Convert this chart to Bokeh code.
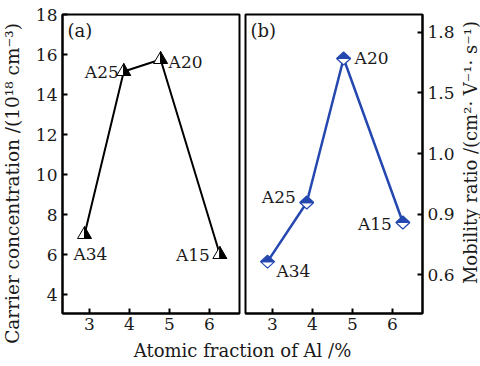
import math
from bokeh.plotting import figure
from bokeh.layouts import row, column
from bokeh.models import ColumnDataSource, Label, FixedTicker, Range1d
from bokeh.embed import file_html
from bokeh.resources import INLINE
from bokeh.core.properties import value

# ---------------- data ----------------
samples = ["A34", "A25", "A20", "A15"]
al_fraction = [2.88, 3.86, 4.78, 6.26]
carrier_conc = [7.0, 15.15, 15.75, 6.0]
mobility_ratio = [0.664, 0.957, 1.671, 0.858]

x_ticks = [3, 4, 5, 6]
carrier_ticks = [4, 6, 8, 10, 12, 14, 16, 18]
mob_tick_pos = [0.6, 0.9, 1.2, 1.5, 1.8]
mob_tick_labels = ["0.6", "0.9", "1.0", "1.5", "1.8"]

x_title = "Atomic fraction of Al /%"
left_title = "Carrier concentration /(10\u00b9\u2078 cm\u207b\u00b3)"
right_title = "Mobility ratio /(cm\u00b2\u00b7 V\u207b\u00b9\u00b7 s\u207b\u00b9)"

# ---------------- style ----------------
FONT = "DejaVu Serif"
TXT = "#1a1a1a"
BLUE = "#2548b0"
FW, FH = 177, 299
XR = (2.33, 6.75)
YR1 = (3.05, 18.0)
YR2 = (0.407, 1.889)
ROW_H = 340
TOTAL_H = 366
LEFT_W = 24


def base_fig(yr, y_loc, left, right):
    p = figure(frame_width=FW, frame_height=FH, x_range=Range1d(*XR), y_range=Range1d(*yr),
               y_axis_location=y_loc, output_backend="svg", toolbar_location=None,
               min_border_left=left, min_border_right=right, min_border_top=14,
               min_border_bottom=27)
    p.grid.visible = False
    p.outline_line_color = "black"
    p.outline_line_width = 2
    p.background_fill_color = "white"
    p.border_fill_color = "white"
    for ax in p.axis:
        ax.axis_line_width = 2
        ax.major_tick_in = 5
        ax.major_tick_out = 0
        ax.major_tick_line_width = 2
        ax.minor_tick_line_color = None
        ax.major_label_text_font = FONT
        ax.major_label_text_font_size = "17px"
        ax.major_label_text_color = TXT
    p.xaxis.ticker = FixedTicker(ticks=x_ticks)
    p.xaxis.major_label_standoff = 4
    p.yaxis.major_label_standoff = 5
    return p


def blank_fig(w, h):
    p = figure(width=w, height=h, x_range=Range1d(0, w), y_range=Range1d(0, h),
               output_backend="svg", toolbar_location=None, min_border=0)
    p.axis.visible = False
    p.grid.visible = False
    p.outline_line_color = None
    return p


def tri_halves(xs, ys):
    sx = (XR[1] - XR[0]) / FW
    sy = (YR1[1] - YR1[0]) / FH
    left, right = [[], []], [[], []]
    for x, y in zip(xs, ys):
        top = (x, y + 8 * sy)
        bl = (x - 7 * sx, y - 4 * sy)
        bm = (x, y - 4 * sy)
        br = (x + 7 * sx, y - 4 * sy)
        left[0].append([top[0], bl[0], bm[0]]); left[1].append([top[1], bl[1], bm[1]])
        right[0].append([top[0], bm[0], br[0]]); right[1].append([top[1], bm[1], br[1]])
    return left, right


def dia_halves(xs, ys):
    sx = (XR[1] - XR[0]) / FW
    sy = (YR2[1] - YR2[0]) / FH
    top, bot = [[], []], [[], []]
    for x, y in zip(xs, ys):
        top[0].append([x - 7 * sx, x, x + 7 * sx]); top[1].append([y, y + 6.5 * sy, y])
        bot[0].append([x - 7 * sx, x, x + 7 * sx]); bot[1].append([y, y - 6.5 * sy, y])
    return top, bot


# ---------------- left title (full height) ----------------
pl = blank_fig(LEFT_W, TOTAL_H)
pl.text(x=[12], y=[TOTAL_H - 183], text=[left_title], angle=math.pi / 2, text_align="center",
        text_baseline="middle", text_font=value(FONT), text_font_size="18.5px", text_color=TXT)

# ---------------- panel (a) ----------------
p1 = base_fig(YR1, "left", 38, 3)
p1.yaxis.ticker = FixedTicker(ticks=carrier_ticks)

p1.line(al_fraction, carrier_conc, line_color="black", line_width=2)
lh, rh = tri_halves(al_fraction, carrier_conc)
p1.patches(lh[0], lh[1], fill_color="white", line_color="black", line_width=1)
p1.patches(rh[0], rh[1], fill_color="black", line_color="black", line_width=1)

src1 = ColumnDataSource(dict(x=al_fraction, y=carrier_conc, t=samples,
                             dx=[-11, -5, 8, -10], dy=[19, 0, 2, 0],
                             al=["left", "right", "left", "right"]))
p1.text("x", "y", text="t", source=src1, x_offset="dx", y_offset="dy", text_align="al",
        text_baseline="middle", text_font=value(FONT), text_font_size="17px", text_color=TXT)
p1.add_layout(Label(x=XR[0], y=YR1[1], text="(a)", x_offset=5, y_offset=-5,
                    text_baseline="top", text_font=FONT, text_font_size="18px", text_color=TXT))

# ---------------- panel (b) ----------------
p2 = base_fig(YR2, "right", 3, 34)
p2.yaxis.ticker = FixedTicker(ticks=mob_tick_pos)
p2.yaxis.major_label_overrides = {t: l for t, l in zip(mob_tick_pos, mob_tick_labels)}

p2.line(al_fraction, mobility_ratio, line_color=BLUE, line_width=2.5)
th, bh = dia_halves(al_fraction, mobility_ratio)
p2.patches(bh[0], bh[1], fill_color="white", line_color=BLUE, line_width=1.2)
p2.patches(th[0], th[1], fill_color=BLUE, line_color=BLUE, line_width=1.2)

src2 = ColumnDataSource(dict(x=al_fraction, y=mobility_ratio, t=samples,
                             dx=[9, -11, 11, -11], dy=[9, -6, 0, 1],
                             al=["left", "right", "left", "right"]))
p2.text("x", "y", text="t", source=src2, x_offset="dx", y_offset="dy", text_align="al",
        text_baseline="middle", text_font=value(FONT), text_font_size="17px", text_color=TXT)
p2.add_layout(Label(x=XR[0], y=YR2[1], text="(b)", x_offset=5, y_offset=-5,
                    text_baseline="top", text_font=FONT, text_font_size="18px", text_color=TXT))

# ---------------- right title ----------------
pr = blank_fig(24, ROW_H)
pr.text(x=[13], y=[ROW_H - 157], text=[right_title], angle=math.pi / 2, text_align="center",
        text_baseline="middle", text_font=value(FONT), text_font_size="18px", text_color=TXT)

# ---------------- shared x title ----------------
p3 = blank_fig(480 - LEFT_W, TOTAL_H - ROW_H)
p3.add_layout(Label(x=242 - LEFT_W, y=16, text=x_title, text_align="center", text_baseline="middle",
                    text_font=FONT, text_font_size="18px", text_color=TXT))

layout = row(pl, column(row(p1, p2, pr, spacing=0), p3, spacing=0), spacing=0)
open("out.html", "w").write(file_html(layout, INLINE))
